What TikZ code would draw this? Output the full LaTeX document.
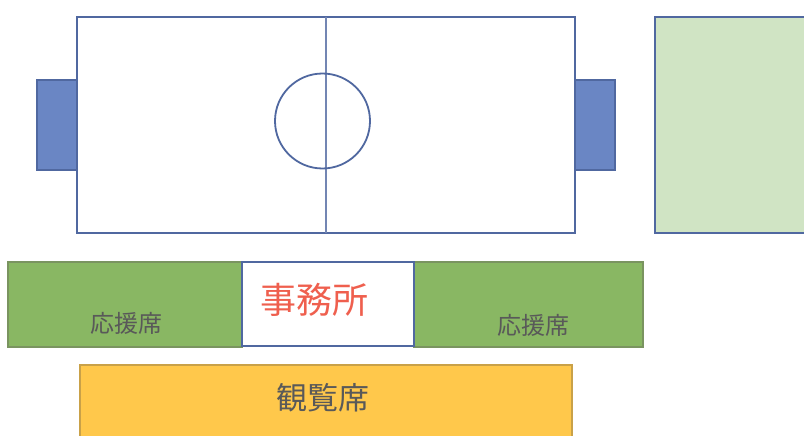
\documentclass[tikz,border=0pt]{standalone}
\usepackage{fontspec}
\newfontfamily\jpfont{Noto Sans CJK JP}
\definecolor{fieldline}{HTML}{5068A0}
\definecolor{goalfill}{HTML}{6A86C4}
\definecolor{lightgreen}{HTML}{D0E4C4}
\definecolor{seatgreen}{HTML}{89B763}
\definecolor{seatline}{HTML}{7A9460}
\definecolor{yellowfill}{HTML}{FFC84B}
\definecolor{yellowline}{HTML}{C9A148}
\definecolor{txtgray}{HTML}{595959}
\definecolor{txtred}{HTML}{EF5F4E}
\tikzset{
  field/.style={draw=fieldline, line width=1.8pt},
  goal/.style={draw=fieldline, fill=goalfill, line width=2pt},
  seat/.style={draw=seatline, fill=seatgreen, line width=1.8pt},
  lbl/.style={text=txtgray, font=\jpfont\fontsize{24}{28}\selectfont, inner sep=0pt}
}
\begin{document}
\begin{tikzpicture}[x=1pt,y=-1pt]
\useasboundingbox (0,0) rectangle (804,436);
% field
\draw[field, fill=white] (77,17) rectangle (575,233);
\draw[draw=fieldline!80, line width=1.5pt] (326,17) -- (326,233);
\draw[field] (322.5,121) circle (47.5);
% goals
\draw[goal] (37,80) rectangle (77,170);
\draw[goal] (575,80) rectangle (615,170);
% right green area
\draw[field, fill=lightgreen] (655,17) rectangle (810,233);
% seats
\draw[seat] (8,262) rectangle (242,347);
\draw[seat] (414,262) rectangle (643,347);
\draw[draw=fieldline, fill=white, line width=2pt] (242,262) rectangle (414,346);
\draw[draw=yellowline, fill=yellowfill, line width=1.8pt] (80,365) rectangle (572,445);
% labels
\node[lbl] (s1) at (126,323) {応援席};
\node[lbl] (s2) at (533,325) {応援席};
\node[lbl, text=txtred, font=\jpfont\fontsize{36}{42}\selectfont] (of) at (314,300) {事務所};
\node[lbl, font=\jpfont\fontsize{31}{36}\selectfont] (kr) at (323,398) {観覧席};
\end{tikzpicture}
\end{document}
